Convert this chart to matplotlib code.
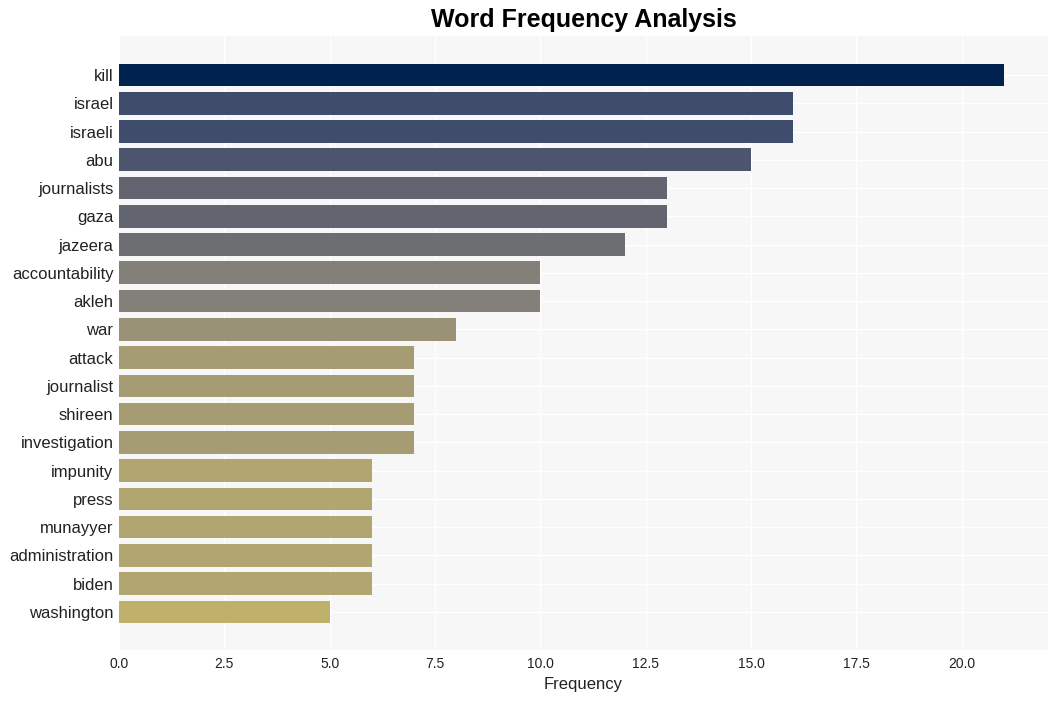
import matplotlib
matplotlib.use("Agg")
import matplotlib.pyplot as plt
import numpy as np

words = ["kill", "israel", "israeli", "abu", "journalists", "gaza", "jazeera",
         "accountability", "akleh", "war", "attack", "journalist", "shireen",
         "investigation", "impunity", "press", "munayyer", "administration",
         "biden", "washington"]
counts = [21, 16, 16, 15, 13, 13, 12, 10, 10, 8, 7, 7, 7, 7, 6, 6, 6, 6, 6, 5]

plt.rcParams['font.family'] = ['Liberation Sans', 'DejaVu Sans']

fig = plt.figure(figsize=(10.58, 7.01), dpi=100)
ax = fig.add_axes([119/1058, 51/701, (1048-119)/1058, (650-36)/701])
ax.set_facecolor('#f7f7f7')

vmax = max(counts)
colors = [plt.cm.cividis(1 - c / vmax) for c in counts]
y = np.arange(len(words))
ax.barh(y, counts, height=0.8, color=colors, zorder=2)

ax.set_yticks(y)
ax.set_yticklabels(words, fontsize=12, color='#222222')
ax.set_ylim(len(words) - 1 + 1.35, -1.38)
ax.set_xlim(0, vmax * 1.05)
ax.set_xticks(np.arange(0, 21, 2.5))
ax.set_xticklabels([f"{t:.1f}" for t in np.arange(0, 21, 2.5)], fontsize=10, color='#222222')
ax.grid(True, color='white', linewidth=1, zorder=0)
ax.set_axisbelow(True)
for s in ax.spines.values():
    s.set_visible(False)
ax.tick_params(axis='x', length=0, pad=5)
ax.tick_params(axis='y', length=0, pad=4)
ax.set_xlabel("Frequency", fontsize=12, color='#222222', labelpad=4)
fig.suptitle("Word Frequency Analysis", fontsize=18, fontweight='bold', y=0.988, x=(119+1048)/2/1058)

fig.savefig("out.png", dpi=100, facecolor='white')
